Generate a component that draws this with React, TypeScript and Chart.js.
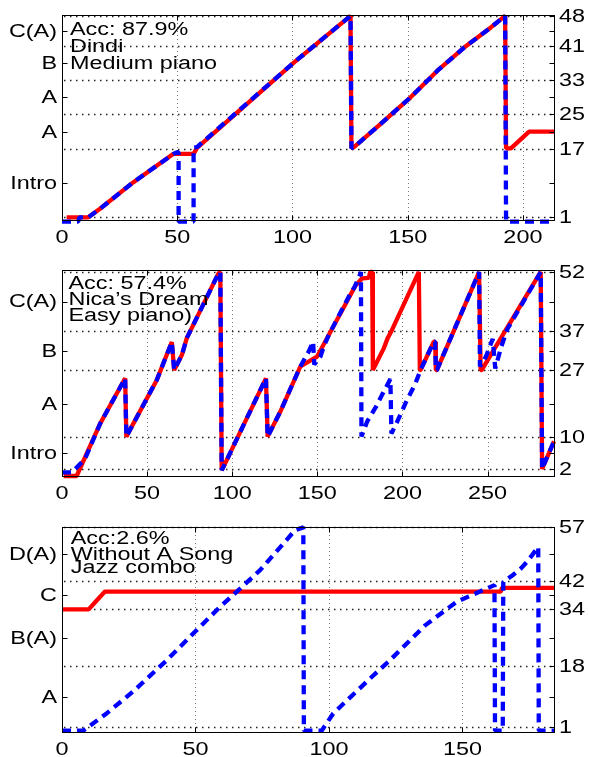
import React, { useEffect, useRef } from "react";
import { Chart, registerables } from "chart.js";
Chart.register(...registerables);

const FONT = '"Liberation Sans", Arial, Helvetica, sans-serif';
const TEXT_STRETCH = 1.3;

// ---------- Panel 1: Dindi ----------
const dindiSections = ["Intro", "A", "A", "B", "C(A)"];
const dindiBounds = [1, 17, 25, 33, 41, 48];
const dindiXTicks = [0, 50, 100, 150, 200];
const dindiText = ["Acc: 87.9%", "Dindi", "Medium piano"];
const dindiTruthX = [2, 11.4, 16.5, 31, 48.4, 57.1, 58.6, 100.6, 125.2, 125.6, 126.7, 138.3, 151.3, 162.9, 174.5, 186.1, 192.3, 192.7, 194.8, 202.7, 213.5];
const dindiTruthY = [1, 1, 3, 9.2, 15.8, 15.8, 17.2, 37.1, 48, 17.1, 17.4, 22.8, 29, 35.2, 40.6, 45.3, 48, 17.1, 17.1, 21, 21];
const dindiPredX = [0, 7, 7.6, 11.4, 16.5, 31, 48.4, 50, 50.6, 50.6, 57.1, 57.1, 58.6, 100.6, 125.2, 125.6, 126.7, 138.3, 151.3, 162.9, 174.5, 186.1, 192.3, 192.7, 213.5];
const dindiPredY = [0, 0, 1, 1, 3, 9.2, 15.8, 16.2, 16.2, 0, 0, 17.2, 17.4, 37.1, 48, 17.1, 17.4, 22.8, 29, 35.2, 40.6, 45.3, 48, 0, 0];

// ---------- Panel 2: Nica's Dream ----------
const nicaSections = ["Intro", "A", "B", "C(A)"];
const nicaBounds = [2, 10, 27, 37, 52];
const nicaXTicks = [0, 50, 100, 150, 200, 250];
const nicaText = ["Acc: 57.4%", "Nica\u2019s Dream", "Easy piano)"];
const nicaTruthX = [1, 8.6, 22.4, 37.1, 37.8, 55.7, 64.5, 65.9, 70.4, 73.3, 92, 93, 93.8, 94.5, 119.8, 120.8, 128.2, 140, 149.8, 156.7, 172.2, 176.3, 180.2, 181, 182.2, 182.6, 189, 191.3, 193.3, 209.6, 210.2, 210.6, 218.4, 219.2, 219.6, 220.2, 238, 245, 245.9, 246.5, 281.2, 282, 289];
const nicaTruthY = [0.2, 0.2, 13.5, 25, 10.2, 24.6, 34.2, 27.1, 30.9, 35.2, 51.7, 52, 1.7, 2.2, 25, 10.2, 16.5, 28, 30.5, 36, 48.4, 50.4, 50.5, 52, 52, 27.1, 32.6, 35.2, 36.8, 52, 27.1, 27.1, 34.3, 34.3, 27.1, 27.1, 44.9, 52, 27.1, 27.1, 52, 2, 9];
const nicaPredX = [0, 5.7, 13.5, 22.4, 37.1, 37.8, 55.7, 64.5, 65.9, 70.4, 73.3, 92, 93, 93.8, 94.5, 119.8, 120.8, 128.2, 140, 144.9, 147.5, 148.2, 151.8, 153.7, 156.7, 169.4, 172, 175.3, 175.6, 175.9, 179.2, 184.5, 188, 192.9, 193.5, 196.9, 201.8, 207.6, 210.6, 218.4, 219.2, 219.6, 220.2, 238, 245, 245.5, 249, 253, 254.5, 258, 261.6, 281.2, 282, 289];
const nicaPredY = [1.1, 1.1, 4.5, 13.5, 25, 10.2, 24.6, 34.2, 27.1, 30.9, 35.2, 51.7, 52, 1.7, 2.2, 25, 10.2, 16.5, 28, 31.8, 34.3, 28.5, 30.5, 33, 36, 46.5, 48.3, 51.6, 52, 10.2, 14, 17.8, 20.8, 24.8, 11, 14, 18.7, 23.7, 27.1, 34.3, 34.3, 27.1, 27.1, 44.9, 52, 28, 30.5, 35, 27.5, 33, 37.5, 52, 2, 9];

// ---------- Panel 3: Without A Song ----------
const songSections = ["A", "B(A)", "C", "D(A)"];
const songBounds = [1, 18, 34, 42, 57];
const songXTicks = [0, 50, 100, 150];
const songText = ["Acc:2.6%", "Without A Song", "Jazz combo"];
const songTruthX = [0, 10, 13, 16.1, 164.4, 164.8, 184.3];
const songTruthY = [34, 34, 36.5, 39, 39, 40, 40];
const songPredX = [0, 8, 16.7, 26.7, 39.2, 49.8, 59.2, 66.7, 74.2, 87.3, 90.4, 90.6, 97.3, 101.6, 115.4, 122.8, 136, 147.8, 162, 162.2, 165.1, 165.3, 168.7, 171.8, 174.3, 177.5, 178.4, 178.6, 184.3];
const songPredY = [0, 0, 4.8, 11, 19.7, 27.7, 34.7, 39.8, 45, 56.2, 57, 0, 0, 4.8, 14.6, 19.7, 29.5, 36.1, 40.8, 0, 0, 41.7, 43.5, 45.4, 47.4, 50.6, 51.5, 0, 0];

const W = 589;
const H = 757;

type PanelCfg = {
  top: number;
  bottom: number;
  xMax: number;
  yMin: number;
  yMax: number;
  sections: string[];
  bounds: number[];
  xTicks: number[];
  text: string[];
  textX: number;
  textBaselines: number[];
  truthX: number[];
  truthY: number[];
  predX: number[];
  predY: number[];
};

const panels: PanelCfg[] = [
  {
    top: 15, bottom: 220, xMax: 213.5, yMin: 0.37, yMax: 48.2,
    sections: dindiSections, bounds: dindiBounds, xTicks: dindiXTicks,
    text: dindiText, textX: 70, textBaselines: [20, 36.7, 54.3],
    truthX: dindiTruthX, truthY: dindiTruthY, predX: dindiPredX, predY: dindiPredY,
  },
  {
    top: 270, bottom: 476, xMax: 289, yMin: 0.2, yMax: 52.5,
    sections: nicaSections, bounds: nicaBounds, xTicks: nicaXTicks,
    text: nicaText, textX: 68.5, textBaselines: [19.3, 35, 50.7],
    truthX: nicaTruthX, truthY: nicaTruthY, predX: nicaPredX, predY: nicaPredY,
  },
  {
    top: 527, bottom: 732, xMax: 184.3, yMin: -0.4, yMax: 57.1,
    sections: songSections, bounds: songBounds, xTicks: songXTicks,
    text: songText, textX: 70.7, textBaselines: [17.3, 33, 46.3],
    truthX: songTruthX, truthY: songTruthY, predX: songPredX, predY: songPredY,
  },
];

const zip = (xs: number[], ys: number[]) => xs.map((x, i) => ({ x, y: ys[i] }));
const mids = (b: number[]) => b.slice(0, -1).map((v, i) => (v + b[i + 1]) / 2);

function stretchedText(ctx: CanvasRenderingContext2D, t: string, x: number, y: number, align: CanvasTextAlign) {
  ctx.save();
  ctx.translate(x, y);
  ctx.scale(TEXT_STRETCH, 1);
  ctx.textAlign = align;
  ctx.fillText(t, 0, 0);
  ctx.restore();
}

function makeDecor(cfg: PanelCfg) {
  const midVals = mids(cfg.bounds);
  return {
    id: "decor",
    beforeDatasetsDraw(chart: any) {
      const { ctx, chartArea } = chart;
      const { left, right, top, bottom } = chartArea;
      const xs = chart.scales.x;
      const ys = chart.scales.yR;
      ctx.save();
      ctx.strokeStyle = "#777";
      ctx.lineWidth = 1;
      ctx.setLineDash([1, 3]);
      cfg.xTicks.forEach((v) => {
        if (v <= xs.min) return;
        const px = Math.round(xs.getPixelForValue(v)) + 0.5;
        ctx.beginPath();
        ctx.moveTo(px, top);
        ctx.lineTo(px, bottom);
        ctx.stroke();
      });
      ctx.strokeStyle = "#222";
      ctx.lineWidth = 1.3;
      ctx.setLineDash([1.5, 4.5]);
      cfg.bounds.forEach((v) => {
        const py = Math.round(ys.getPixelForValue(v)) + 0.5;
        ctx.beginPath();
        ctx.moveTo(left + 2, py);
        ctx.lineTo(right, py);
        ctx.stroke();
      });
      ctx.restore();
    },
    afterDatasetsDraw(chart: any) {
      const { ctx, chartArea } = chart;
      const { left, right, top, bottom } = chartArea;
      const xs = chart.scales.x;
      const ys = chart.scales.y;
      const yr = chart.scales.yR;
      ctx.save();
      ctx.setLineDash([]);
      ctx.strokeStyle = "#000";
      ctx.lineWidth = 1;
      const L = Math.round(left) + 0.5;
      const R = Math.round(right) + 0.5;
      const T = Math.round(top) + 0.5;
      const B = Math.round(bottom) + 0.5;
      ctx.strokeRect(L, T, R - L, B - T);
      const tick = 5;
      ctx.beginPath();
      cfg.xTicks.forEach((v) => {
        const px = Math.round(xs.getPixelForValue(v)) + 0.5;
        ctx.moveTo(px, B);
        ctx.lineTo(px, B - tick);
        ctx.moveTo(px, T);
        ctx.lineTo(px, T + tick);
      });
      midVals.forEach((v) => {
        const py = Math.round(ys.getPixelForValue(v)) + 0.5;
        ctx.moveTo(L, py);
        ctx.lineTo(L + tick, py);
        ctx.moveTo(R, py);
        ctx.lineTo(R - tick, py);
      });
      cfg.bounds.forEach((v) => {
        const py = Math.round(yr.getPixelForValue(v)) + 0.5;
        ctx.moveTo(R, py);
        ctx.lineTo(R - tick, py);
      });
      ctx.stroke();

      ctx.fillStyle = "#000";
      ctx.font = `18px ${FONT}`;
      ctx.textBaseline = "middle";
      cfg.xTicks.forEach((v) => {
        stretchedText(ctx, String(v), xs.getPixelForValue(v), bottom + 18, "center");
      });
      midVals.forEach((v, i) => {
        stretchedText(ctx, cfg.sections[i], left - 5, ys.getPixelForValue(v) + 1, "right");
      });
      cfg.bounds.forEach((v) => {
        stretchedText(ctx, String(v), right + 5, yr.getPixelForValue(v) + 1, "left");
      });
      ctx.textBaseline = "alphabetic";
      cfg.text.forEach((t, i) => {
        stretchedText(ctx, t, cfg.textX, top + cfg.textBaselines[i], "left");
      });
      ctx.restore();
    },
  };
}

function Panel({ cfg }: { cfg: PanelCfg }) {
  const ref = useRef<HTMLCanvasElement | null>(null);
  useEffect(() => {
    if (!ref.current) return;
    const midVals = mids(cfg.bounds);
    const hidden = { ticks: { display: false }, grid: { display: false }, border: { display: false } };
    const chart = new Chart(ref.current, {
      type: "line",
      data: {
        datasets: [
          {
            label: "Prediction",
            data: zip(cfg.predX, cfg.predY),
            borderColor: "#0000ff",
            borderWidth: 4.3,
            borderDash: [9, 6],
            borderJoinStyle: "bevel",
            pointRadius: 0,
            tension: 0,
            order: 0,
            clip: 6,
          } as any,
          {
            label: "Ground truth",
            data: zip(cfg.truthX, cfg.truthY),
            borderColor: "#ff0000",
            borderWidth: 4.3,
            borderJoinStyle: "bevel",
            pointRadius: 0,
            tension: 0,
            order: 1,
            clip: 6,
          } as any,
        ],
      },
      options: {
        responsive: false,
        animation: false,
        devicePixelRatio: 1,
        events: [],
        layout: { padding: { top: cfg.top, bottom: H - cfg.bottom - 20, left: 0, right: 0 } },
        plugins: { legend: { display: false }, tooltip: { enabled: false } },
        scales: {
          x: {
            type: "linear",
            min: 0,
            max: cfg.xMax,
            ...hidden,
            afterBuildTicks: (s: any) => { s.ticks = cfg.xTicks.map((value) => ({ value })); },
            afterFit: (s: any) => { s.height = 20; },
          },
          y: {
            type: "linear",
            position: "left",
            min: cfg.yMin,
            max: cfg.yMax,
            ...hidden,
            afterBuildTicks: (s: any) => { s.ticks = midVals.map((value) => ({ value })); },
            afterFit: (s: any) => { s.width = 62; },
          },
          yR: {
            type: "linear",
            position: "right",
            min: cfg.yMin,
            max: cfg.yMax,
            ...hidden,
            afterBuildTicks: (s: any) => { s.ticks = cfg.bounds.map((value) => ({ value })); },
            afterFit: (s: any) => { s.width = 35; },
          },
        } as any,
      },
      plugins: [makeDecor(cfg)],
    });
    return () => chart.destroy();
  }, [cfg]);
  return (
    <canvas
      ref={ref}
      width={W}
      height={H}
      style={{ position: "absolute", left: 0, top: 0, width: W, height: H }}
    />
  );
}

export default function App() {
  return (
    <div style={{ position: "fixed", left: 0, top: 0, width: W, height: H, background: "#fff" }}>
      {panels.map((p, i) => (
        <Panel key={i} cfg={p} />
      ))}
    </div>
  );
}
